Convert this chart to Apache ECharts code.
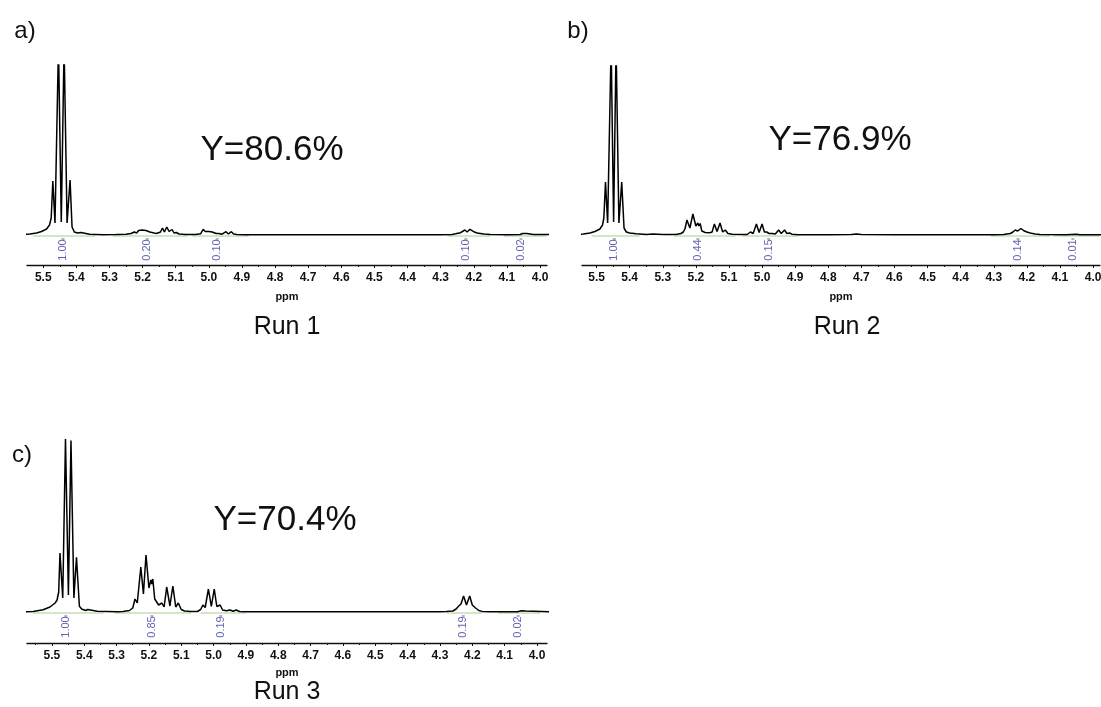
<!DOCTYPE html>
<html>
<head>
<meta charset="utf-8">
<title>1H NMR – Runs 1-3</title>
<script src="https://cdn.jsdelivr.net/npm/echarts@6/dist/echarts.min.js"></script>
<style>
  html, body { margin: 0; padding: 0; background: #fff; }
  #chart { width: 1101px; height: 707px; }
</style>
</head>
<body>
<div id="chart"></div>
<script>
// ppm tick labels shown on every spectrum axis
const tickValues = [5.5, 5.4, 5.3, 5.2, 5.1, 5.0, 4.9, 4.8, 4.7, 4.6, 4.5, 4.4, 4.3, 4.2, 4.1, 4.0];

// Spectrum traces: [ppm, intensity]
const run1Spectrum = [
  [5.62, 0], [5.56, 0.4], [5.54, 1], [5.52, 2], [5.505, 3.5], [5.49, 6], [5.481, 10], [5.476, 17],
  [5.471, 54], [5.4645, 12], [5.454, 190], [5.4455, 13], [5.437, 190], [5.428, 12], [5.419, 55],
  [5.413, 8], [5.406, 3], [5.401, 4], [5.396, 2], [5.386, 2.5], [5.38, 1.2], [5.36, 0.7], [5.32, 0.3],
  [5.28, 0.4], [5.25, 0.8], [5.235, 1.5], [5.225, 3], [5.218, 2], [5.212, 4.5], [5.207, 3], [5.201, 5],
  [5.196, 3.5], [5.19, 4.5], [5.185, 2.5], [5.178, 3], [5.172, 1.5], [5.165, 2], [5.158, 1.5],
  [5.146, 3], [5.14, 7], [5.134, 3], [5.127, 8], [5.12, 3.5], [5.111, 5.5], [5.105, 2], [5.098, 2.5],
  [5.09, 1], [5.07, 0.4], [5.04, 0.4], [5.025, 1.2], [5.017, 5.7], [5.011, 3.5], [5.005, 5.5],
  [5.0, 3.5], [4.995, 5], [4.99, 3], [4.985, 3.8], [4.978, 1.5], [4.97, 1.5], [4.96, 0.8],
  [4.948, 3.3], [4.941, 1], [4.932, 3.3], [4.925, 1], [4.915, 0.6], [4.89, 0.3], [4.8, 0.2],
  [4.6, 0.2], [4.4, 0.2], [4.3, 0.3], [4.265, 0.6], [4.255, 1.2], [4.24, 2.3], [4.227, 5],
  [4.22, 3], [4.212, 5.7], [4.2, 3.3], [4.19, 2], [4.17, 1], [4.15, 0.4], [4.1, 0.3], [4.06, 0.5],
  [4.052, 1.5], [4.047, 0.8], [4.04, 1.5], [4.034, 0.6], [4.02, 0.6], [3.95, 0.4]
];
const run2Spectrum = [
  [5.62, 0], [5.56, 0.4], [5.54, 1], [5.52, 2], [5.505, 3.5], [5.49, 6], [5.482, 10], [5.478, 17],
  [5.473, 53], [5.4665, 12], [5.456, 190], [5.4485, 13], [5.441, 190], [5.4325, 12], [5.424, 53],
  [5.417, 7], [5.41, 3], [5.40, 2], [5.38, 1.2], [5.35, 0.6], [5.33, 0.9], [5.3, 0.4], [5.26, 0.5],
  [5.245, 1.5], [5.238, 3], [5.233, 6], [5.227, 15], [5.218, 7], [5.209, 21], [5.2, 9], [5.194, 12],
  [5.191, 9], [5.187, 11.5], [5.182, 4], [5.178, 5], [5.172, 2.5], [5.166, 3], [5.158, 2.2],
  [5.151, 3], [5.144, 11], [5.136, 3.5], [5.127, 12], [5.119, 3], [5.111, 5], [5.103, 1.5],
  [5.09, 0.8], [5.07, 0.4], [5.045, 0.5], [5.035, 3], [5.027, 1.5], [5.017, 11], [5.009, 2.5],
  [5.0, 11], [4.993, 3], [4.986, 3], [4.979, 1.5], [4.97, 1.5], [4.96, 1], [4.95, 5], [4.942, 1.5],
  [4.932, 5], [4.925, 1.5], [4.917, 2], [4.91, 0.8], [4.89, 0.3], [4.8, 0.3], [4.73, 0.4],
  [4.715, 0.9], [4.7, 0.4], [4.6, 0.3], [4.4, 0.3], [4.3, 0.3], [4.27, 0.5], [4.25, 1.5],
  [4.242, 3], [4.235, 5], [4.228, 4], [4.218, 6.5], [4.21, 4.5], [4.2, 3], [4.19, 2], [4.175, 1],
  [4.16, 0.4], [4.08, 0.3], [4.05, 0.8], [4.04, 0.3], [3.95, 0.3]
];
const run3Spectrum = [
  [5.62, 0], [5.578, 0.2], [5.558, 0.6], [5.527, 2.3], [5.506, 5], [5.49, 9], [5.484, 12],
  [5.479, 20], [5.475, 59], [5.4665, 14], [5.458, 173], [5.449, 17], [5.441, 171.6], [5.432, 14],
  [5.424, 54.6], [5.415, 5.7], [5.408, 3], [5.403, 2], [5.396, 1.5], [5.389, 2.5], [5.383, 1.2],
  [5.36, 0.8], [5.3, 0.3], [5.28, 0.4], [5.26, 1.5], [5.25, 4], [5.243, 13], [5.236, 9],
  [5.225, 45], [5.217, 18], [5.209, 57], [5.2, 24], [5.194, 32], [5.191, 28], [5.188, 33],
  [5.182, 13], [5.177, 12], [5.17, 7], [5.16, 9], [5.153, 5], [5.145, 25], [5.135, 6],
  [5.126, 26], [5.117, 5], [5.109, 9], [5.1, 2.5], [5.09, 1], [5.07, 0.4], [5.05, 0.5],
  [5.04, 2.5], [5.033, 7], [5.026, 4.5], [5.016, 23], [5.007, 5.5], [4.998, 23], [4.99, 5.5],
  [4.98, 7], [4.972, 2], [4.96, 1.2], [4.949, 2], [4.94, 0.8], [4.93, 2], [4.92, 0.5], [4.9, 0.2],
  [4.7, 0.2], [4.5, 0.2], [4.3, 0.2], [4.28, 0.4], [4.26, 1], [4.25, 3], [4.242, 6], [4.235, 8],
  [4.227, 16], [4.218, 7], [4.208, 16], [4.2, 7], [4.19, 4], [4.18, 1.5], [4.17, 0.6], [4.15, 0.2],
  [4.06, 0.2], [4.055, 0.3], [4.048, 1.2], [4.042, 0.4], [4.035, 1], [4.03, 0.3], [3.95, 0.2]
];

// Integral values: [ppm, value]
const run1Integrals = [[5.440, '1.00'], [5.186, '0.20'], [4.975, '0.10'], [4.224, '0.10'], [4.058, '0.02']];
const run2Integrals = [[5.446, '1.00'], [5.194, '0.44'], [4.980, '0.15'], [4.227, '0.14'], [4.061, '0.01']];
const run3Integrals = [[5.457, '1.00'], [5.191, '0.85'], [4.978, '0.19'], [4.228, '0.19'], [4.058, '0.02']];

// Integration ranges: [start ppm, end ppm]
const run1Ranges = [[5.53, 5.343], [5.29, 5.065], [5.05, 4.88], [4.28, 4.15], [4.11, 3.98]];
const run2Ranges = [[5.515, 5.37], [5.264, 5.08], [5.06, 4.89], [4.31, 4.13], [4.12, 3.98]];
const run3Ranges = [[5.558, 5.34], [5.305, 5.07], [5.04, 4.90], [4.28, 4.17], [4.12, 3.99]];

// Headline yields and run names
const yieldLabels = ['Y=80.6%', 'Y=76.9%', 'Y=70.4%'];
const runNames = ['Run 1', 'Run 2', 'Run 3'];
const panelLetters = ['a)', 'b)', 'c)'];

const FONT = '"Liberation Sans", Arial, sans-serif';
const INTEGRAL_BLUE = '#3b3b9c';

// Panel geometry (pixel boxes of each spectrum plot) and axis spans in ppm
const panels = [
  { spectrum: run1Spectrum, integrals: run1Integrals, ranges: run1Ranges,
    left: 27, top: 65, width: 520, height: 200, xMin: 3.979, xMax: 5.549, yMin: -30, yMax: 170, nameGap: 26 },
  { spectrum: run2Spectrum, integrals: run2Integrals, ranges: run2Ranges,
    left: 582, top: 66, width: 518, height: 199, xMin: 3.979, xMax: 5.544, yMin: -30, yMax: 169, nameGap: 26 },
  { spectrum: run3Spectrum, integrals: run3Integrals, ranges: run3Ranges,
    left: 27, top: 437, width: 520, height: 206, xMin: 3.969, xMax: 5.577, yMin: -31, yMax: 175, nameGap: 24 }
];

const minorValues = (p) => tickValues
  .map(v => +(v + 0.05).toFixed(2))
  .concat([3.95])
  .filter(v => v > p.xMin && v < p.xMax);

const grid = [], xAxis = [], yAxis = [], series = [];

panels.forEach((p, i) => {
  grid.push({ left: p.left, top: p.top, width: p.width, height: p.height,
    containLabel: false, outerBoundsMode: 'none' });
  const visibleTicks = tickValues.filter(v => v >= p.xMin && v <= p.xMax);
  xAxis.push({
    gridIndex: i, type: 'value', inverse: true, min: p.xMin, max: p.xMax,
    name: 'ppm', nameLocation: 'middle', nameGap: p.nameGap,
    nameTextStyle: { fontFamily: FONT, fontSize: 11, fontWeight: 'bold', color: '#111' },
    axisLine: { show: true, onZero: false, lineStyle: { color: '#111', width: 1.3 } },
    axisTick: { show: true, customValues: visibleTicks, length: 3, lineStyle: { color: '#111', width: 1 } },
    axisLabel: { show: true, customValues: visibleTicks, margin: 7, formatter: v => v.toFixed(1),
      fontFamily: FONT, fontSize: 12, fontWeight: 'bold', color: '#111' },
    splitLine: { show: false }
  });
  xAxis.push({
    gridIndex: i, type: 'value', inverse: true, min: p.xMin, max: p.xMax, position: 'bottom',
    axisLine: { show: false, onZero: false },
    axisTick: { show: true, customValues: minorValues(p), length: 2, lineStyle: { color: '#111', width: 1 } },
    axisLabel: { show: false },
    splitLine: { show: false }
  });
  yAxis.push({ gridIndex: i, type: 'value', min: p.yMin, max: p.yMax, show: false,
    splitLine: { show: false } });

  // integration ranges drawn just under the baseline
  const rangeData = [];
  p.ranges.forEach(r => { rangeData.push([r[0], -1], [r[1], -1], [r[1], '-']); });
  series.push({
    type: 'line', xAxisIndex: 2 * i, yAxisIndex: i, data: rangeData, symbol: 'none',
    connectNulls: false, lineStyle: { color: '#9fd08c', width: 1 }, silent: true, z: 1
  });

  // the spectrum trace
  series.push({
    type: 'line', xAxisIndex: 2 * i, yAxisIndex: i, data: p.spectrum, symbol: 'none',
    clip: true, lineStyle: { color: '#000', width: 1.5 }, silent: true, z: 3
  });

  // integral markers and values (rotated)
  series.push({
    type: 'scatter', xAxisIndex: 2 * i, yAxisIndex: i,
    data: p.integrals.map(d => [d[0], -4]), symbol: 'rect', symbolSize: [3, 1],
    itemStyle: { color: INTEGRAL_BLUE }, silent: true, z: 2
  });
  series.push({
    type: 'scatter', xAxisIndex: 2 * i, yAxisIndex: i,
    data: p.integrals.map(d => ({ value: [d[0], -15], name: d[1] })), symbolSize: 0,
    label: { show: true, position: 'inside', rotate: 90, formatter: '{b}',
      fontFamily: FONT, fontSize: 11, color: INTEGRAL_BLUE },
    silent: true, z: 2
  });
});

const textEl = (x, y, text, size) => ({
  type: 'text', x: x, y: y,
  style: { text: text, font: size + 'px ' + FONT, fill: '#111', textAlign: 'center', textVerticalAlign: 'middle' }
});

const graphic = [
  textEl(25, 31, panelLetters[0], 24),
  textEl(578, 31, panelLetters[1], 24),
  textEl(22, 455, panelLetters[2], 24),
  textEl(272, 150, yieldLabels[0], 35),
  textEl(840, 140, yieldLabels[1], 35),
  textEl(285, 520, yieldLabels[2], 35),
  textEl(287, 327, runNames[0], 25),
  textEl(847, 327, runNames[1], 25),
  textEl(287, 692, runNames[2], 25)
];

const chart = echarts.init(document.getElementById('chart'), null, { renderer: 'canvas' });
chart.setOption({
  animation: false,
  backgroundColor: '#fff',
  grid: grid, xAxis: xAxis, yAxis: yAxis, series: series, graphic: graphic
});
</script>
</body>
</html>
